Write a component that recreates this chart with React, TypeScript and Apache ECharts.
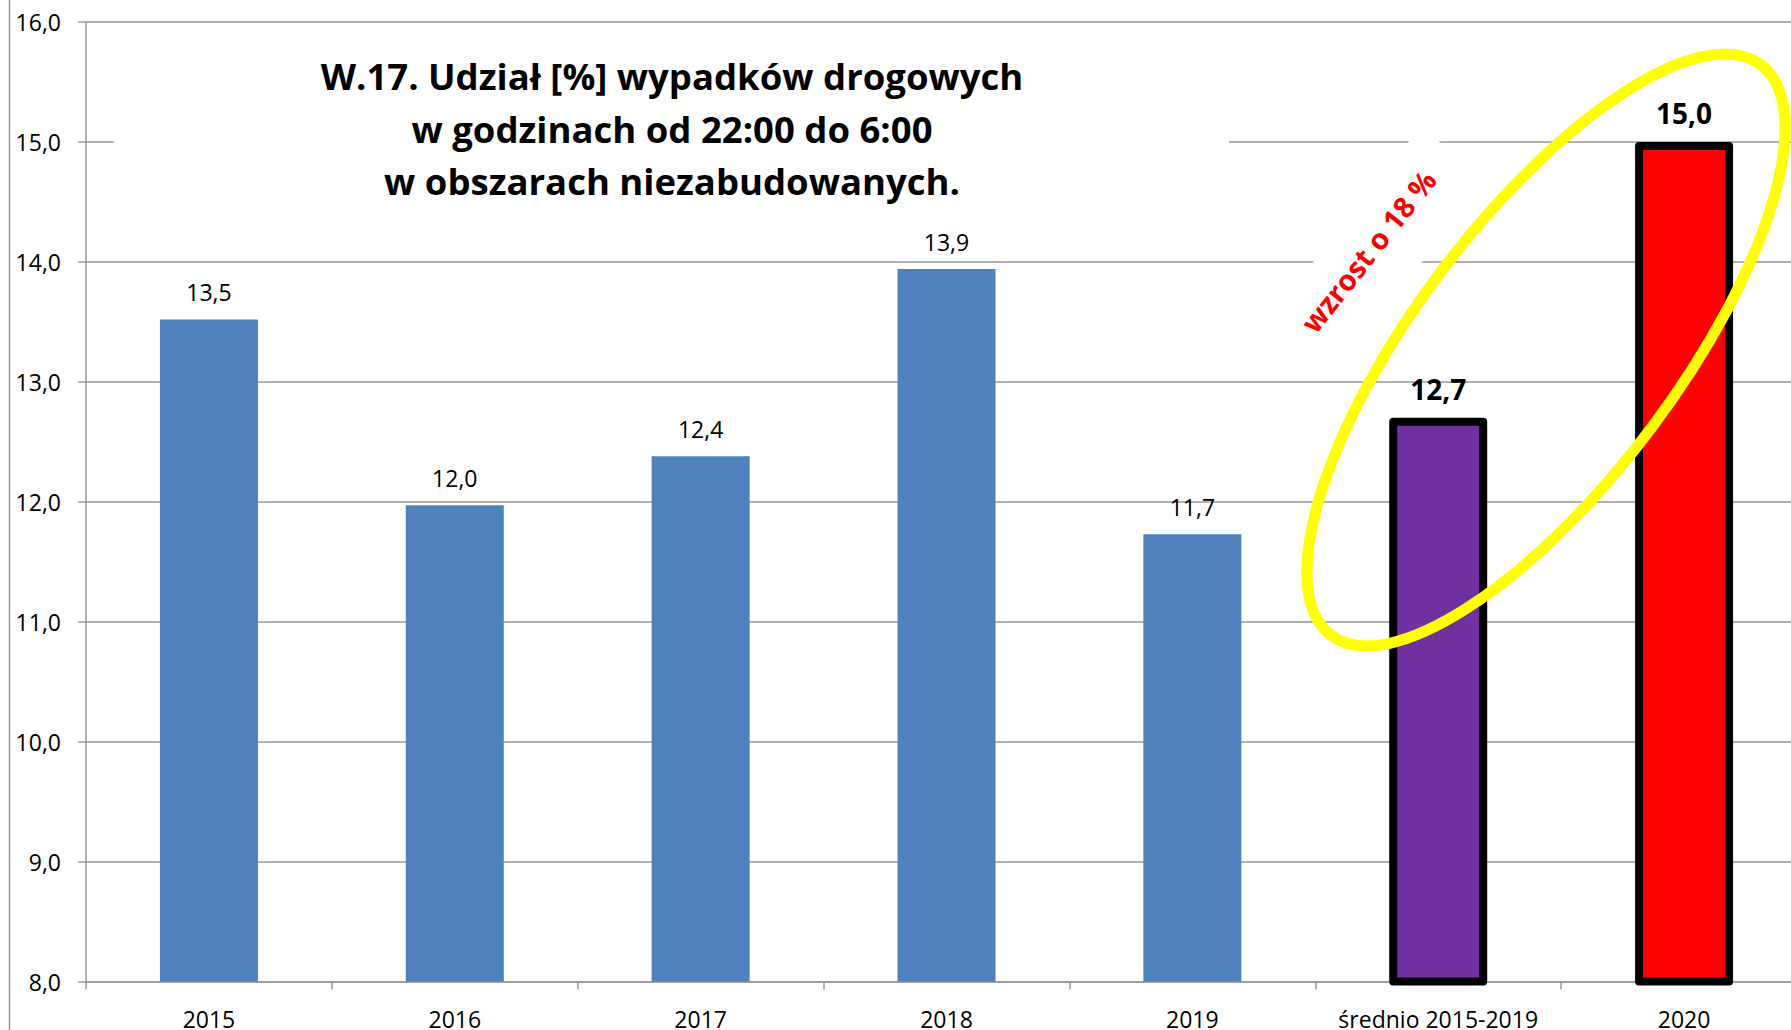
import React, { useEffect, useRef } from 'react';
import * as echarts from 'echarts';

const categories = ['2015', '2016', '2017', '2018', '2019', 'średnio 2015-2019', '2020'];
const values = [13.52, 11.97, 12.38, 13.94, 11.73, 12.7, 15.0];
const yMin = 8;
const yMax = 16;
const yInterval = 1;
const titleLines = [
  'W.17. Udział [%] wypadków drogowych',
  'w godzinach od 22:00 do 6:00',
  'w obszarach niezabudowanych.',
];
const annotation = 'wzrost o 18 %';

const FONT = "'Open Sans', 'Noto Sans', sans-serif";
const fmt = (v: number) => v.toFixed(1).replace('.', ',');

const highlightColors: Record<number, string> = { 5: '#7030A0', 6: '#FF0000' };

export default function App() {
  const ref = useRef<HTMLDivElement>(null);
  useEffect(() => {
    document.body.style.overflow = 'hidden';
    const chart = echarts.init(ref.current!, null, { renderer: 'svg' });
    const data = values.map((v, i) => {
      const c = highlightColors[i];
      if (!c) return { value: v };
      return {
        value: v,
        itemStyle: { color: c, borderColor: '#000', borderWidth: 8, borderJoin: 'round' },
        label: { fontWeight: 'bold', fontSize: 28, distance: 15 },
      };
    });
    const gridColor = '#999999';
    const deg = Math.PI / 180;
    chart.setOption({
      animation: false,
      backgroundColor: '#ffffff',
      grid: { left: 86, top: 22, right: 0, height: 960 },
      xAxis: {
        type: 'category',
        data: categories,
        boundaryGap: true,
        axisLine: { show: true, lineStyle: { color: gridColor, width: 1.5 } },
        axisTick: { show: true, length: 8, lineStyle: { color: gridColor, width: 1.5 } },
        axisLabel: {
          color: '#000',
          fontSize: 23,
          lineHeight: 18,
          fontFamily: FONT,
          margin: 28,
          interval: 0,
        },
        splitLine: { show: false },
      },
      yAxis: {
        type: 'value',
        min: yMin,
        max: yMax,
        interval: yInterval,
        axisLine: { show: true, lineStyle: { color: gridColor, width: 1.5 } },
        axisTick: { show: true, length: 8, lineStyle: { color: gridColor, width: 1.5 } },
        axisLabel: {
          color: '#000',
          fontSize: 23,
          fontFamily: FONT,
          margin: 25,
          formatter: (v: number) => fmt(v),
        },
        splitLine: { show: true, lineStyle: { color: gridColor, width: 1.5 } },
      },
      series: [
        {
          type: 'bar',
          data,
          barWidth: 98,
          itemStyle: { color: '#4F81BD' },
          label: {
            show: true,
            position: 'top',
            distance: 16,
            color: '#000',
            fontSize: 23,
            fontFamily: FONT,
            formatter: (p: any) => fmt(p.value),
          },
        },
      ],
      graphic: [
        {
          type: 'line',
          shape: { x1: 9.5, y1: 0, x2: 9.5, y2: 1030 },
          style: { stroke: gridColor, lineWidth: 1.5 },
          z: 5,
        },
        {
          type: 'rect',
          shape: { x: 114, y: 40, width: 1115, height: 150 },
          style: { fill: '#ffffff' },
          z: 5,
        },
        ...titleLines.map((t, i) => ({
          type: 'text',
          x: 672,
          y: 76 + i * 52.5,
          style: {
            text: t,
            fill: '#000',
            fontSize: 36.5,
            fontWeight: 'bold',
            fontFamily: FONT,
            align: 'center',
            verticalAlign: 'middle',
          },
          z: 6,
        })),
        {
          type: 'group',
          x: 1368,
          y: 251,
          rotation: 51.6 * deg,
          children: [
            {
              type: 'rect',
              shape: { x: -115, y: -36, width: 245, height: 85 },
              style: { fill: '#ffffff' },
              z: 5,
            },
            {
              type: 'text',
              style: {
                text: annotation,
                fill: '#FF0000',
                fontSize: 29,
                fontWeight: 'bold',
                fontFamily: FONT,
                align: 'center',
                verticalAlign: 'middle',
              },
              z: 6,
            },
          ],
        },
        {
          type: 'ellipse',
          x: 1546,
          y: 350,
          rotation: 53 * deg,
          shape: { cx: 0, cy: 0, rx: 357, ry: 131 },
          style: { fill: 'none', stroke: '#FFFF00', lineWidth: 11 },
          z: 100,
        },
      ],
    });
    return () => chart.dispose();
  }, []);
  return (
    <div
      ref={ref}
      style={{ position: 'fixed', left: 0, top: 0, width: 1807, height: 1030, background: '#fff' }}
    />
  );
}
